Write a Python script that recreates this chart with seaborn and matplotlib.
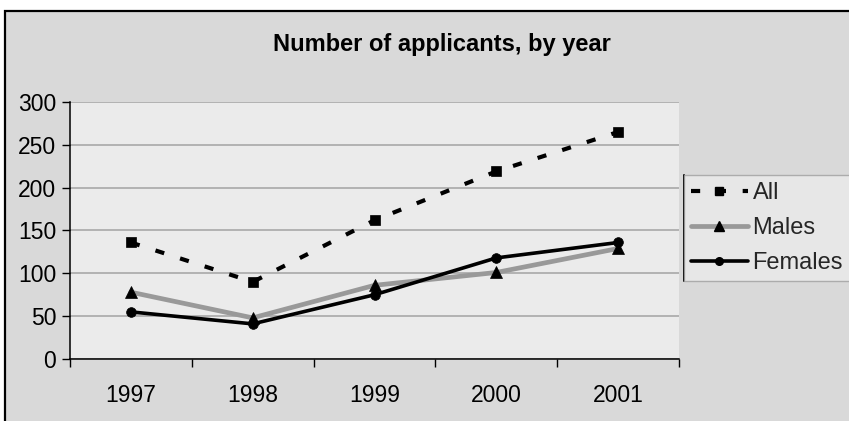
import matplotlib
matplotlib.use("Agg")
import matplotlib.pyplot as plt
from matplotlib.patches import Rectangle
from matplotlib.lines import Line2D
import seaborn as sns
import pandas as pd

# Applicants per year
years = ["1997", "1998", "1999", "2000", "2001"]
all_applicants = [136, 90, 162, 219, 265]
males = [78, 48, 86, 101, 129]
females = [55, 41, 75, 118, 136]
y_ticks = [0, 50, 100, 150, 200, 250, 300]
title = "Number of applicants, by year"

sns.set_theme(style="white")
plt.rcParams["font.family"] = ["Liberation Sans", "DejaVu Sans"]

W, H = 849, 421
fig = plt.figure(figsize=(W / 100, H / 100), dpi=100)
fig.patch.set_facecolor("white")

# chart area panel with black frame
frame = Rectangle((5 / W, -0.1), 1.2, 1 - 11 / H + 0.1, transform=fig.transFigure,
                  facecolor="#D9D9D9", edgecolor="black", linewidth=1.6, zorder=-10)
fig.patches.append(frame)

ax = fig.add_axes([70 / W, (H - 359) / H, (679 - 70) / W, (359 - 102) / H])
ax.set_facecolor("#EBEBEB")

df = pd.DataFrame({"Year": years, "All": all_applicants,
                   "Males": males, "Females": females})

styles = {
    "All": dict(color="black", linewidth=3.0, linestyle=(0, (2.2, 4.0)), marker="s",
                markersize=7.5),
    "Males": dict(color="#999999", linewidth=3.4, linestyle="-", marker="^",
                  markersize=8),
    "Females": dict(color="black", linewidth=2.6, linestyle="-", marker="o",
                    markersize=7),
}

for name in ["Males", "Females", "All"]:
    st = styles[name]
    sns.lineplot(data=df, x="Year", y=name, ax=ax, sort=False, legend=False,
                 color=st["color"], linewidth=st["linewidth"], linestyle=st["linestyle"],
                 marker=st["marker"], markersize=st["markersize"],
                 markerfacecolor="black", markeredgecolor="black", markeredgewidth=0.5,
                 dash_capstyle="butt")

ax.set_xlim(-0.5, len(years) - 0.5)
ax.set_ylim(0, 300)
ax.set_yticks(y_ticks)
ax.set_yticklabels([str(v) for v in y_ticks])
ax.yaxis.grid(True, color="#A3A3A3", linewidth=1.1)
ax.set_axisbelow(True)

# category boundary ticks on x, labels centred between them
ax.set_xticks([i - 0.5 for i in range(len(years) + 1)])
ax.set_xticklabels([])
ax.set_xticks(range(len(years)), minor=True)
ax.set_xticklabels(years, minor=True)
ax.tick_params(axis="x", which="major", direction="out", length=5.5, width=1,
               color="black", bottom=True)
ax.tick_params(axis="x", which="minor", length=0, pad=18, labelsize=16.5, labelcolor="black")
ax.tick_params(axis="y", direction="out", length=5.5, width=1, color="black", left=True,
               pad=4.5, labelsize=16.5, labelcolor="black")

for side in ["top", "right"]:
    ax.spines[side].set_visible(False)
for side in ["left", "bottom"]:
    ax.spines[side].set_color("black")
    ax.spines[side].set_linewidth(1.1)
ax.set_xlabel("")
ax.set_ylabel("")

fig.text(441.5 / W, 1 - 44 / H, title, ha="center", va="center",
         fontsize=17, fontweight="bold", color="black")

handles = [Line2D([], [], color=styles[n]["color"], linewidth=styles[n]["linewidth"],
                  linestyle=styles[n]["linestyle"], marker=styles[n]["marker"],
                  markersize=styles[n]["markersize"] - 1.5, markerfacecolor="black",
                  markeredgecolor="black", dash_capstyle="butt")
           for n in ["All", "Males", "Females"]]
leg = fig.legend(handles, ["All", "Males", "Females"], loc="center left",
                 bbox_to_anchor=(684 / W, (H - 228) / H), bbox_transform=fig.transFigure,
                 fontsize=17, frameon=True, fancybox=False, handlelength=2.4,
                 handletextpad=0.2, labelspacing=0.55, borderpad=0.3, borderaxespad=0)
leg.get_frame().set_facecolor("#EBEBEB")
leg.get_frame().set_edgecolor("#A0A0A0")
leg.get_frame().set_linewidth(1.0)

# darker left and right edges of the legend box
fig.canvas.draw()
bb = leg.get_window_extent().transformed(fig.transFigure.inverted())
for xe in (bb.x0, bb.x1):
    fig.lines.append(Line2D([xe, xe], [bb.y0, bb.y1], transform=fig.transFigure,
                            color="black", linewidth=1.4))

fig.savefig("out.png", dpi=100, facecolor=fig.get_facecolor())
